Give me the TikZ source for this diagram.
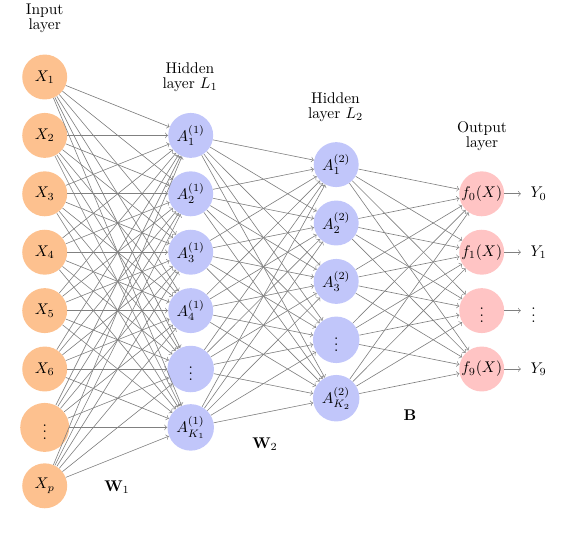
\documentclass[tikz,border=0pt]{standalone}
\begin{document}
\definecolor{inC}{RGB}{253,193,143}
\definecolor{hidC}{RGB}{193,198,250}
\definecolor{outC}{RGB}{255,196,196}
\begin{tikzpicture}[x=0.6452pt,y=-0.6452pt,
  neuron/.style={circle,minimum size=29pt,inner sep=0pt},
  inp/.style={neuron,fill=inC},
  hid/.style={neuron,fill=hidC},
  outn/.style={neuron,fill=outC},
  conn/.style={->,gray,line width=0.4pt},
  lbl/.style={align=center,font=\fontsize{10}{9.7}\selectfont},
  ylbl/.style={inner sep=6pt}]
\useasboundingbox (0,0) rectangle (588,533);
% input layer
\node[inp] (I1) at (44.7,77.0) {$X_1$};
\node[inp] (I2) at (44.7,135.4) {$X_2$};
\node[inp] (I3) at (44.7,193.8) {$X_3$};
\node[inp] (I4) at (44.7,252.2) {$X_4$};
\node[inp] (I5) at (44.7,310.6) {$X_5$};
\node[inp] (I6) at (44.7,369.0) {$X_6$};
\node[inp,minimum size=31.6pt] (I7) at (44.7,427.4) {$\vdots$};
\node[inp] (I8) at (44.7,485.8) {$X_p$};
% hidden layer 1
\node[hid] (H1) at (190.7,135.4) {$A_1^{(1)}$};
\node[hid] (H2) at (190.7,193.8) {$A_2^{(1)}$};
\node[hid] (H3) at (190.7,252.2) {$A_3^{(1)}$};
\node[hid] (H4) at (190.7,310.6) {$A_4^{(1)}$};
\node[hid,minimum size=30pt] (H5) at (190.7,369.0) {$\vdots$};
\node[hid,minimum size=30pt] (H6) at (190.7,427.4) {$A_{K_1}^{(1)}$};
% hidden layer 2
\node[hid] (G1) at (336.2,164.6) {$A_1^{(2)}$};
\node[hid] (G2) at (336.2,223.0) {$A_2^{(2)}$};
\node[hid] (G3) at (336.2,281.4) {$A_3^{(2)}$};
\node[hid,minimum size=30pt] (G4) at (336.2,339.8) {$\vdots$};
\node[hid,minimum size=30pt] (G5) at (336.2,398.2) {$A_{K_2}^{(2)}$};
% output layer
\node[outn] (O1) at (481.7,193.8) {$f_0(X)$};
\node[outn] (O2) at (481.7,252.2) {$f_1(X)$};
\node[outn] (O3) at (481.7,310.6) {$\vdots$};
\node[outn] (O4) at (481.7,369.0) {$f_9(X)$};
% outputs
\node[ylbl] (Y1) at (538.5,193.8) {$Y_0$};
\node[ylbl] (Y2) at (538.5,252.2) {$Y_1$};
\node[ylbl,inner sep=6.6pt] (Y3) at (533.5,310.6) {$\vdots$};
\node[ylbl] (Y4) at (538.5,369.0) {$Y_9$};
% connections
\foreach \i in {1,...,8}
  \foreach \j in {1,...,6}
    \draw[conn] (I\i) -- (H\j);
\foreach \i in {1,...,6}
  \foreach \j in {1,...,5}
    \draw[conn] (H\i) -- (G\j);
\foreach \i in {1,...,5}
  \foreach \j in {1,...,4}
    \draw[conn] (G\i) -- (O\j);
\foreach \i in {1,...,4}
  \draw[conn] (O\i) -- (Y\i.west|-O\i);
% layer labels
\node[lbl] (LI) at (44.7,18.5) {Input\\layer};
\node[lbl] (LH1) at (190,77) {Hidden\\layer $L_1$};
\node[lbl] (LH2) at (335.5,107) {Hidden\\layer $L_2$};
\node[lbl] (LO) at (482,136) {Output\\layer};
\node (W1) at (117,487) {$\mathbf{W}_1$};
\node (W2) at (265,444) {$\mathbf{W}_2$};
\node (B) at (410,415) {$\mathbf{B}$};
\end{tikzpicture}
\end{document}
